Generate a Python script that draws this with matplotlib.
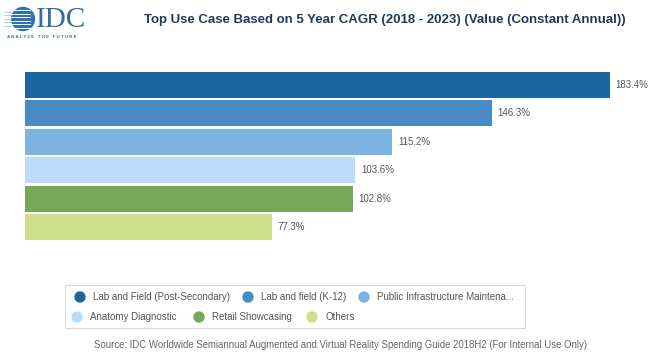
import matplotlib.pyplot as plt
from matplotlib.patches import Rectangle, Circle

# data
categories = ['Lab and Field (Post-Secondary)', 'Lab and field (K-12)', 'Public Infrastructure Maintena...',
              'Anatomy Diagnostic', 'Retail Showcasing', 'Others']
values = [183.4, 146.3, 115.2, 103.6, 102.8, 77.3]
colors = ['#1b65a1', '#4a8bc3', '#7db3e0', '#badcf9', '#75a857', '#cddf8a']

W, H = 655, 355
fig = plt.figure(figsize=(W / 100, H / 100), dpi=100)
fig.patch.set_facecolor('white')
plt.rcParams['font.family'] = ['Liberation Sans', 'DejaVu Sans']


def px(x, y):
    # pixel coords (from top-left) -> figure fraction
    return x / W, 1 - y / H


# overlay in pixel units for legend box / markers
oax = fig.add_axes([0, 0, 1, 1])
oax.set_xlim(0, W)
oax.set_ylim(H, 0)
oax.axis('off')

# bars
ax = fig.add_axes([25 / W, 1 - 241.5 / H, 585 / W, 171 / H])
y = list(range(len(values)))
ax.barh(y, values, height=0.91, color=colors)
ax.set_xlim(0, values[0])
ax.set_ylim(len(values) - 0.5, -0.5)
ax.axis('off')
for i, v in enumerate(values):
    ax.annotate(f'{v}%', (v, i), xytext=(4, 0), textcoords='offset points',
                va='center', ha='left', fontsize=7, color='#555555')

# title
fig.text(*px(385, 20), 'Top Use Case Based on 5 Year CAGR (2018 - 2023) (Value (Constant Annual))',
         ha='center', va='center', fontsize=9.5, fontweight='bold', color='#1f3b5c')

# logo
lax = fig.add_axes([0, 1 - 45 / H, 110 / W, 45 / H])
lax.set_xlim(0, 110)
lax.set_ylim(45, 0)
lax.axis('off')
lax.add_patch(Circle((23, 19), 11.5, color='#2e74b5'))
for sy in [10, 13.5, 17, 20.5, 24, 27.5]:
    lax.plot([4, 30], [sy, sy], color='white', lw=0.7)
for sy in [11.7, 15.2, 18.7, 22.2, 25.7]:
    lax.plot([4, 11], [sy, sy], color='#a9c4de', lw=0.6)
lax.text(36, 20, 'IDC', fontsize=21, family='Liberation Serif', color='#2e6da8',
         va='center', ha='left')
lax.text(7, 37.5, 'A N A L Y Z E   T H E   F U T U R E', fontsize=3.2, color='#2e6da8',
         va='center', ha='left', fontweight='bold')

# legend
oax.add_patch(Rectangle((65, 285), 460, 43, fill=False, edgecolor='#d9d9d9', lw=0.8))
leg_pos = [(80, 297), (248, 297), (364, 297), (77, 317), (199, 317), (312, 317)]
for (mx, my), c, name in zip(leg_pos, colors, categories):
    oax.add_patch(Circle((mx, my), 5, color=c))
    oax.text(mx + 13, my, name, color='#555555', fontsize=7, ha='left', va='center')

# source
fig.text(*px(341, 345), 'Source: IDC Worldwide Semiannual Augmented and Virtual Reality Spending Guide 2018H2 (For Internal Use Only)',
         ha='center', va='center', fontsize=6.9, color='#666666')

fig.savefig('out.png', dpi=100)
